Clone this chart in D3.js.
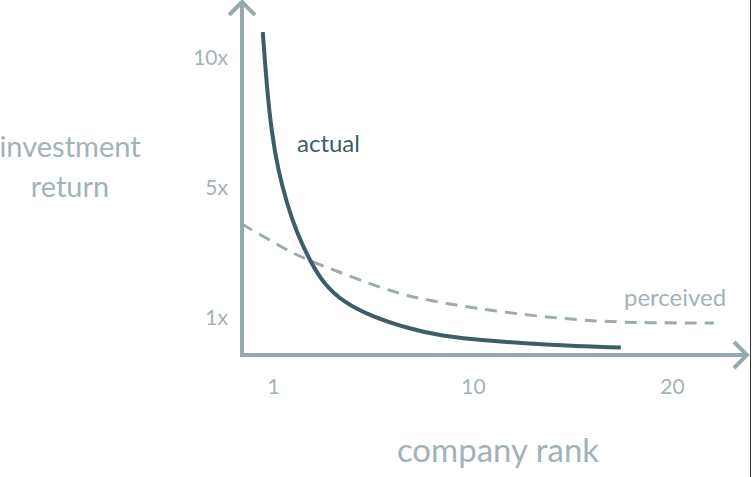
<!DOCTYPE html>
<html>
<head>
<meta charset="utf-8">
<script src="https://cdn.jsdelivr.net/npm/d3@7"></script>
<style>
  html, body { margin: 0; padding: 0; background: #fff; }
  svg { display: block; font-family: Lato, "Noto Sans", sans-serif; }
</style>
</head>
<body>
<svg id="chart" width="752" height="477"></svg>
<script>
// ranks and return multiples
const actualRank   = [0.54, 0.72, 0.94, 1.23, 1.62, 2.07, 2.67, 3.25, 4.15, 5.5, 7.03, 8.52, 10.85, 13.77, 17.43];
const actualReturn = [11.0, 8.9, 7.12, 5.69, 4.54, 3.62, 2.75, 2.08, 1.49, 1.03, 0.73, 0.51, 0.38, 0.27, 0.2];

const perceivedRank   = [-0.4, 1.77, 2.58, 6.27, 8.07, 10.85, 15.43, 18.79, 22.1];
const perceivedReturn = [3.89, 3.03, 2.78, 1.8, 1.53, 1.22, 0.92, 0.865, 0.865];

const xTicks = [1, 10, 20];
const yTicks = [1, 5, 10];

(() => {
  const svg = d3.select("#chart");

  const axisColor = "#95a9af";
  const labelColor = "#a2b3b8";
  const darkColor = "#3d5e67";

  // the drawing is not to scale, so both scales are piecewise
  const x = d3.scaleLinear().domain([1, 10, 20]).range([273, 473, 672]);
  const y = d3.scaleLinear().domain([0, 1, 5, 10]).range([355, 318, 188, 58]);

  const originX = 242, originY = 355;

  // tick labels only
  const yAxis = svg.append("g")
    .attr("transform", `translate(${originX},0)`)
    .call(d3.axisLeft(y).tickValues(yTicks).tickFormat(d => d + "x").tickSize(0).tickPadding(14));
  const xAxis = svg.append("g")
    .attr("transform", `translate(0,${originY})`)
    .call(d3.axisBottom(x).tickValues(xTicks).tickFormat(d => d).tickSize(0).tickPadding(24));
  [yAxis, xAxis].forEach(g => {
    g.select(".domain").remove();
    g.selectAll("text")
      .attr("fill", labelColor)
      .style("font-size", "21px")
      .style("font-family", "Lato, 'Noto Sans', sans-serif");
  });

  // curves
  const line = d3.line().curve(d3.curveBasis);

  svg.append("path")
    .attr("d", line(perceivedRank.map((r, i) => [x(r), y(perceivedReturn[i])])))
    .attr("fill", "none")
    .attr("stroke", "#9aacb1")
    .attr("stroke-width", 3)
    .attr("stroke-dasharray", "12 8");

  svg.append("path")
    .attr("d", line(actualRank.map((r, i) => [x(r), y(actualReturn[i])])))
    .attr("fill", "none")
    .attr("stroke", darkColor)
    .attr("stroke-width", 4);

  // axis lines with arrows
  const axes = svg.append("g")
    .attr("fill", "none")
    .attr("stroke", axisColor)
    .attr("stroke-width", 4);
  axes.append("path").attr("d", `M${originX},${originY + 2}V3`);
  axes.append("path").attr("d", `M${originX - 13},15L${originX},2L${originX + 13},15`);
  axes.append("path").attr("d", `M${originX - 2},${originY}H746`);
  axes.append("path").attr("d", `M734,${originY - 13}L747,${originY}L734,${originY + 13}`);

  // labels
  svg.append("text")
    .attr("x", 297).attr("y", 152)
    .attr("fill", darkColor)
    .style("font-size", "24px")
    .text("actual");

  svg.append("text")
    .attr("x", 624).attr("y", 306)
    .attr("fill", labelColor)
    .style("font-size", "24px")
    .text("perceived");

  svg.append("text")
    .attr("text-anchor", "middle")
    .attr("fill", labelColor)
    .style("font-size", "29px")
    .selectAll("tspan")
    .data(["investment", "return"])
    .join("tspan")
    .attr("x", 70)
    .attr("y", (d, i) => 157 + i * 40)
    .text(d => d);

  svg.append("text")
    .attr("x", 498).attr("y", 462)
    .attr("text-anchor", "middle")
    .attr("fill", labelColor)
    .style("font-size", "33px")
    .text("company rank");

  // right border of the original image
  svg.append("line")
    .attr("x1", 750.5).attr("x2", 750.5)
    .attr("y1", 0).attr("y2", 477)
    .attr("stroke", "#333")
    .attr("stroke-width", 1);
})();
</script>
</body>
</html>
